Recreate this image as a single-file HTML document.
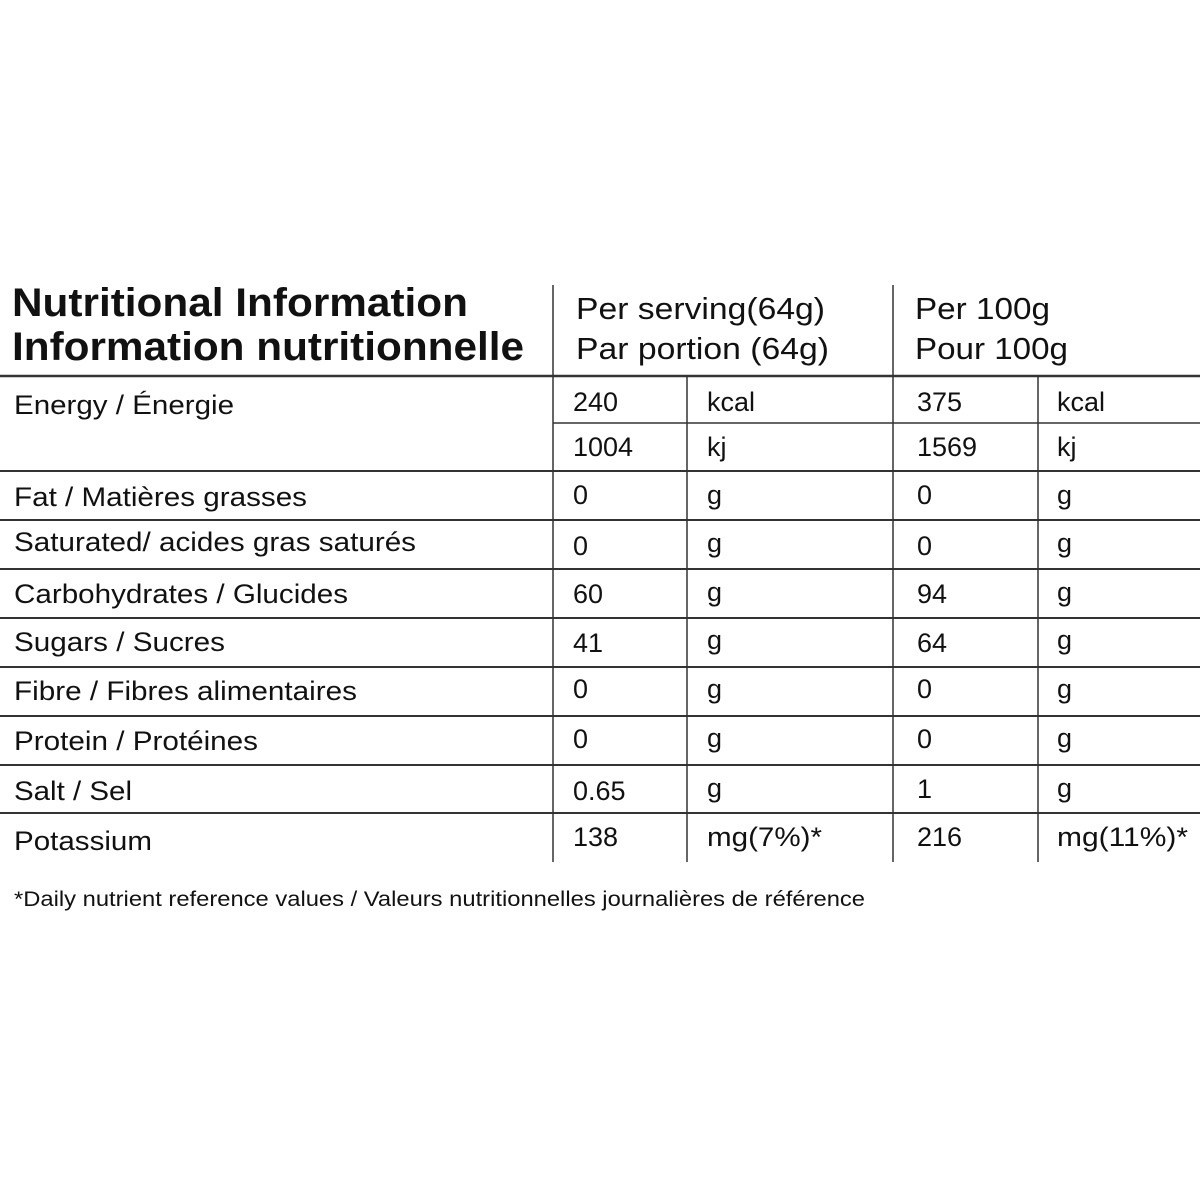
<!DOCTYPE html>
<html><head><meta charset="utf-8"><style>
html,body{margin:0;padding:0;background:#fff;}
svg{display:block;font-family:"Liberation Sans",Arial,sans-serif;fill:#111;}
</style></head><body>
<svg width="1200" height="1200" viewBox="0 0 1200 1200">
<g stroke="#333" stroke-width="1.5">
<line x1="0" y1="376" x2="1200" y2="376" stroke-width="2.5"/>
<line x1="553" y1="423" x2="1200" y2="423"/>
<line x1="0" y1="471" x2="1200" y2="471" stroke-width="2"/>
<line x1="0" y1="520" x2="1200" y2="520" stroke-width="2"/>
<line x1="0" y1="569" x2="1200" y2="569" stroke-width="2"/>
<line x1="0" y1="618" x2="1200" y2="618" stroke-width="2"/>
<line x1="0" y1="667" x2="1200" y2="667" stroke-width="2"/>
<line x1="0" y1="716" x2="1200" y2="716" stroke-width="2"/>
<line x1="0" y1="765" x2="1200" y2="765" stroke-width="2"/>
<line x1="0" y1="813" x2="1200" y2="813" stroke-width="2"/>
<line x1="553" y1="285" x2="553" y2="862"/>
<line x1="893" y1="285" x2="893" y2="862"/>
<line x1="687" y1="376" x2="687" y2="862"/>
<line x1="1038" y1="376" x2="1038" y2="862"/>
</g>
<g font-weight="bold" font-size="40">
<text x="12" y="316" textLength="456" lengthAdjust="spacingAndGlyphs">Nutritional Information</text>
<text x="12" y="360" textLength="512" lengthAdjust="spacingAndGlyphs">Information nutritionnelle</text>
</g>
<g font-size="31">
<text x="576" y="319" textLength="249" lengthAdjust="spacingAndGlyphs">Per serving(64g)</text>
<text x="576" y="359" textLength="253" lengthAdjust="spacingAndGlyphs">Par portion (64g)</text>
<text x="915" y="319" textLength="135" lengthAdjust="spacingAndGlyphs">Per 100g</text>
<text x="915" y="359" textLength="153" lengthAdjust="spacingAndGlyphs">Pour 100g</text>
</g>
<g font-size="27">
<text x="14" y="414" textLength="220" lengthAdjust="spacingAndGlyphs">Energy / Énergie</text>
<text x="573" y="411">240</text><text x="707" y="411">kcal</text><text x="917" y="411">375</text><text x="1057" y="411">kcal</text>
<text x="573" y="456">1004</text><text x="707" y="456">kj</text><text x="917" y="456">1569</text><text x="1057" y="456">kj</text>

<text x="14" y="506" textLength="293" lengthAdjust="spacingAndGlyphs">Fat / Matières grasses</text>
<text x="573" y="504">0</text><text x="707" y="504">g</text><text x="917" y="504">0</text><text x="1057" y="504">g</text>

<text x="14" y="551" textLength="402" lengthAdjust="spacingAndGlyphs">Saturated/ acides gras saturés</text>
<text x="573" y="555">0</text><text x="707" y="552">g</text><text x="917" y="555">0</text><text x="1057" y="552">g</text>

<text x="14" y="603" textLength="334" lengthAdjust="spacingAndGlyphs">Carbohydrates / Glucides</text>
<text x="573" y="603">60</text><text x="707" y="601">g</text><text x="917" y="603">94</text><text x="1057" y="601">g</text>

<text x="14" y="651" textLength="211" lengthAdjust="spacingAndGlyphs">Sugars / Sucres</text>
<text x="573" y="652">41</text><text x="707" y="649">g</text><text x="917" y="652">64</text><text x="1057" y="649">g</text>

<text x="14" y="700" textLength="343" lengthAdjust="spacingAndGlyphs">Fibre / Fibres alimentaires</text>
<text x="573" y="698">0</text><text x="707" y="698">g</text><text x="917" y="698">0</text><text x="1057" y="698">g</text>

<text x="14" y="750" textLength="244" lengthAdjust="spacingAndGlyphs">Protein / Protéines</text>
<text x="573" y="748">0</text><text x="707" y="747">g</text><text x="917" y="748">0</text><text x="1057" y="747">g</text>

<text x="14" y="800" textLength="118" lengthAdjust="spacingAndGlyphs">Salt / Sel</text>
<text x="573" y="800">0.65</text><text x="707" y="797">g</text><text x="917" y="798">1</text><text x="1057" y="797">g</text>

<text x="14" y="850" textLength="138" lengthAdjust="spacingAndGlyphs">Potassium</text>
<text x="573" y="846">138</text><text x="707" y="846" textLength="115" lengthAdjust="spacingAndGlyphs">mg(7%)*</text>
<text x="917" y="846">216</text><text x="1057" y="846" textLength="131" lengthAdjust="spacingAndGlyphs">mg(11%)*</text>
</g>
<text x="14" y="906" font-size="21" textLength="851" lengthAdjust="spacingAndGlyphs">*Daily nutrient reference values / Valeurs nutritionnelles journalières de référence</text>
</svg>
</body></html>
